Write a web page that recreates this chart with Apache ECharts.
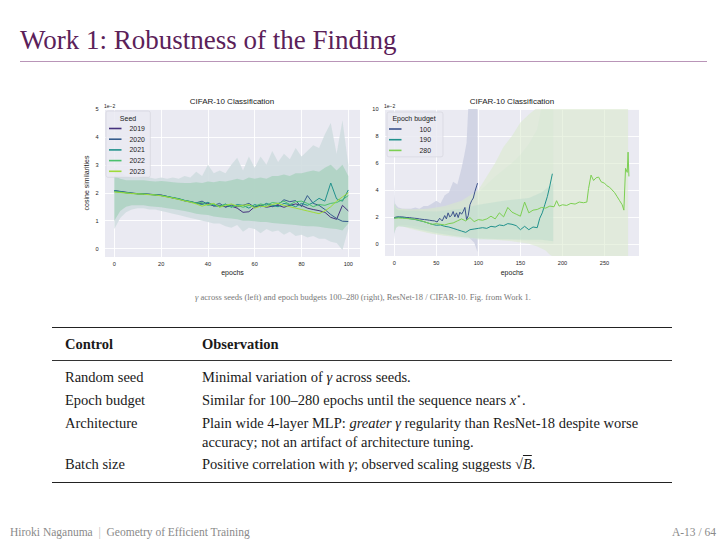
<!DOCTYPE html>
<html>
<head>
<meta charset="utf-8">
<script src="https://cdn.jsdelivr.net/npm/echarts@6.0.0/dist/echarts.min.js"></script>
<style>
  html, body { margin: 0; padding: 0; background: #fff; }
  #page { position: relative; width: 726px; height: 544px; overflow: hidden; }
  #chartDiv { position: absolute; left: 0; top: 0; width: 726px; height: 544px; }
  .t { position: absolute; white-space: nowrap; font-family: 'Liberation Serif', 'DejaVu Serif', serif; }
  .rule { position: absolute; }
  .row { font-size: 14.5px; line-height: 14.5px; color: #1a1a1a; }
  .m { font-style: italic; }
</style>
</head>
<body>
<div id="page">
  <div id="chartDiv"></div>

  <div class="t" style="left:20px; top:27px; font-size:27px; line-height:27px; color:#5b2159;">Work 1: Robustness of the Finding</div>
  <div class="rule" style="left:20px; top:60.5px; width:687px; height:1.2px; background:#b995b8;"></div>

  <div class="t" style="left:0; top:292.5px; width:726px; text-align:center; font-size:8.5px; line-height:8.5px; color:#777;"><span class="m">γ</span> across seeds (left) and epoch budgets 100–280 (right), ResNet-18 / CIFAR-10. Fig. from Work 1.</div>

  <div class="rule" style="left:52px; top:326.5px; width:620px; height:1.4px; background:#222;"></div>
  <div class="t row" style="left:65px; top:337px; font-weight:bold;">Control</div>
  <div class="t row" style="left:202px; top:337px; font-weight:bold;">Observation</div>
  <div class="rule" style="left:52px; top:359.5px; width:620px; height:0.8px; background:#333;"></div>

  <div class="t row" style="left:65px; top:370px;">Random seed</div>
  <div class="t row" style="left:202px; top:370px;">Minimal variation of <span class="m">γ</span> across seeds.</div>
  <div class="t row" style="left:65px; top:392.5px;">Epoch budget</div>
  <div class="t row" style="left:202px; top:392.5px;">Similar for 100–280 epochs until the sequence nears <span class="m">x</span><sup style="font-size:9px; line-height:0;">⋆</sup>.</div>
  <div class="t row" style="left:65px; top:415.5px;">Architecture</div>
  <div class="t row" style="left:202px; top:415.5px;">Plain wide 4-layer MLP: <span class="m">greater</span> <span class="m">γ</span> regularity than ResNet-18 despite worse</div>
  <div class="t row" style="left:202px; top:434.5px;">accuracy; not an artifact of architecture tuning.</div>
  <div class="t row" style="left:65px; top:457px;">Batch size</div>
  <div class="t row" style="left:202px; top:457px;">Positive correlation with <span class="m">γ</span>; observed scaling suggests √<span class="m" style="text-decoration:overline;">B</span>.</div>
  <div class="rule" style="left:52px; top:482px; width:620px; height:1.4px; background:#222;"></div>

  <div class="t" style="left:10px; top:526.5px; font-size:11.5px; line-height:11.5px; color:#8a8a8a;">Hiroki Naganuma &nbsp;<span style="color:#bbb;">|</span>&nbsp; Geometry of Efficient Training</div>
  <div class="t" style="right:10px; top:526.5px; font-size:11.5px; line-height:11.5px; color:#8a8a8a;">A-13 / 64</div>
</div>

<script>
// ---- left panel: seeds ----
const seedNames = ['2019', '2020', '2021', '2022', '2023'];
const seedColors = ['#46327e', '#365c8d', '#21918c', '#4ac16d', '#9fda3a'];

const leftEpochs = [0, 2.5, 5, 7.5, 10, 12.5, 15, 17.5, 20, 22.5, 25, 27.5, 30, 32.5, 35, 37.5, 40, 42.5, 45, 47.5,
    50, 52.5, 55, 57.5, 60, 62.5, 65, 67.5, 70, 72.5, 75, 77.5, 80, 82.5, 85, 87.5, 90, 92.5, 95, 97.5, 100];

const seed2019 = [2.08, 2.05, 2.02, 1.99, 1.97, 1.96, 1.95, 1.93, 1.92, 1.87, 1.82, 1.78, 1.72, 1.68, 1.64, 1.60, 1.63, 1.52, 1.55, 1.50,
    1.52, 1.45, 1.30, 1.32, 1.50, 1.55, 1.48, 1.52, 1.55, 1.48, 1.55, 1.60, 1.55, 1.45, 1.40, 1.36, 1.30, 1.12, 1.05, 1.55, 1.35];
const seed2020 = [2.06, 2.03, 2.00, 1.98, 1.96, 1.95, 1.94, 1.92, 1.90, 1.86, 1.81, 1.77, 1.71, 1.67, 1.64, 1.70, 1.58, 1.55, 1.62, 1.48,
    1.56, 1.50, 1.55, 1.62, 1.48, 1.55, 1.60, 1.50, 1.58, 1.75, 1.68, 1.72, 1.50, 1.90, 1.62, 1.55, 1.40, 1.22, 1.08, 0.98, 0.97];
const seed2021 = [2.08, 2.04, 2.01, 1.98, 1.97, 1.96, 1.94, 1.93, 1.91, 1.87, 1.83, 1.79, 1.73, 1.69, 1.62, 1.58, 1.66, 1.55, 1.50, 1.60,
    1.48, 1.58, 1.55, 1.45, 1.58, 1.50, 1.62, 1.55, 1.50, 1.62, 1.58, 1.50, 1.62, 1.55, 1.65, 1.80, 1.70, 2.35, 1.78, 1.70, 2.10];
const seed2022 = [2.04, 2.02, 2.00, 1.98, 1.96, 1.95, 1.94, 1.92, 1.90, 1.86, 1.82, 1.78, 1.72, 1.68, 1.63, 1.65, 1.55, 1.60, 1.52, 1.58,
    1.50, 1.55, 1.48, 1.55, 1.52, 1.60, 1.55, 1.65, 1.62, 1.70, 1.58, 1.68, 1.70, 1.62, 1.50, 1.58, 1.55, 1.62, 1.65, 1.75, 1.90];
const seed2023 = [2.03, 2.01, 1.99, 1.97, 1.96, 1.95, 1.93, 1.92, 1.89, 1.85, 1.81, 1.76, 1.71, 1.66, 1.60, 1.52, 1.58, 1.62, 1.48, 1.55,
    1.60, 1.52, 1.55, 1.58, 1.45, 1.52, 1.50, 1.58, 1.62, 1.55, 1.50, 1.45, 1.40, 1.35, 1.30, 1.25, 1.35, 1.50, 1.70, 1.85, 2.00];

// spread of the per-step traces (outer envelope and dense core)
const leftOuterHi = [2.9, 2.75, 2.6, 2.55, 2.55, 2.6, 2.55, 2.5, 2.55, 2.5, 2.55, 2.5, 2.6, 2.55, 2.75, 2.6, 3.0, 2.7, 2.8, 2.7,
    3.0, 3.25, 2.8, 3.3, 2.9, 3.3, 3.0, 3.5, 3.1, 3.4, 3.2, 3.6, 3.3, 3.5, 3.7, 3.6, 4.1, 4.5, 3.4, 4.6, 3.0];
const leftOuterLo = [0.7, 1.1, 1.3, 1.4, 1.45, 1.45, 1.4, 1.4, 1.35, 1.3, 1.25, 1.2, 1.15, 1.1, 1.05, 1.0, 0.95, 0.9, 0.9, 0.8,
    0.75, 0.85, 0.6, 0.75, 0.7, 0.55, 0.7, 0.6, 0.65, 0.5, 0.6, 0.45, 0.5, 0.4, 0.45, 0.35, 0.35, 0.25, 0.2, -0.05, 0.7];
const leftInnerHi = [2.6, 2.5, 2.45, 2.45, 2.45, 2.45, 2.42, 2.4, 2.42, 2.4, 2.38, 2.36, 2.35, 2.35, 2.38, 2.35, 2.4, 2.38, 2.42, 2.4,
    2.45, 2.5, 2.45, 2.55, 2.5, 2.55, 2.5, 2.6, 2.6, 2.65, 2.6, 2.7, 2.7, 2.75, 2.8, 2.75, 2.9, 3.0, 2.8, 3.0, 2.6];
const leftInnerLo = [1.0, 1.35, 1.5, 1.55, 1.55, 1.55, 1.52, 1.5, 1.48, 1.45, 1.42, 1.38, 1.35, 1.3, 1.25, 1.22, 1.2, 1.15, 1.12, 1.1,
    1.08, 1.05, 1.0, 1.0, 0.98, 0.95, 0.95, 0.92, 0.9, 0.88, 0.86, 0.85, 0.82, 0.8, 0.8, 0.78, 0.75, 0.72, 0.7, 0.65, 0.9];

const leftXTicks = [0, 20, 40, 60, 80, 100];
const leftYTicks = [0, 1, 2, 3, 4, 5];

// ---- right panel: epoch budgets ----
const budgetNames = ['100', '190', '280'];
const budgetColors = ['#3b528b', '#21918c', '#7ccf52'];

const l100Epochs = [0, 3, 6, 9, 12, 15, 18, 21, 24, 27, 30, 33, 36, 39, 42, 45, 48, 51, 54, 57,
    60, 62, 64, 66, 68, 70, 72, 74, 76, 78, 80, 82, 84, 86, 88, 90, 92, 94, 96, 98, 99];
const l100 = [1.95, 2.0, 2.0, 2.0, 1.98, 1.95, 1.95, 1.92, 1.9, 1.88, 1.85, 1.82, 1.8, 1.78, 1.75, 1.72, 1.7, 1.62, 1.9, 1.7,
    2.1, 1.85, 2.3, 2.0, 2.1, 2.4, 2.0, 2.3, 1.95, 2.35, 2.2, 2.4, 2.7, 1.8, 2.1, 2.9, 3.2, 3.4, 3.9, 4.3, 4.5];

const l190Epochs = [0, 5, 10, 15, 20, 25, 30, 35, 40, 45, 50, 55, 60, 65, 70, 75, 80, 85, 90, 95,
    100, 105, 110, 115, 120, 125, 130, 135, 140, 145, 150, 155, 160, 165, 170, 173, 176, 179, 182, 185, 188];
const l190 = [1.9, 1.98, 1.95, 1.9, 1.85, 1.8, 1.72, 1.65, 1.55, 1.45, 1.38, 1.4, 1.3, 1.25, 1.15, 1.05, 0.95, 0.85, 1.05, 1.1,
    1.15, 1.2, 1.15, 1.3, 1.25, 1.4, 1.35, 1.5, 1.45, 1.35, 1.05, 1.3, 1.05, 1.25, 1.2, 1.9, 2.3, 2.9, 3.5, 4.3, 5.2];

const l280Epochs = [0, 5, 10, 15, 20, 25, 30, 35, 40, 45, 50, 55, 60, 65, 70, 75, 80, 85, 90, 95,
    100, 105, 110, 115, 120, 125, 130, 135, 140, 145, 150, 155, 160, 165, 170, 175, 180, 185, 190,
    193, 196, 200, 205, 210, 215, 220, 225, 229, 231, 234, 237, 240, 243, 246, 250, 253, 256, 259, 262,
    265, 268, 271, 273, 275, 277, 278, 279];
const l280 = [1.9, 1.92, 1.9, 1.88, 1.85, 1.82, 1.75, 1.65, 1.55, 1.45, 1.5, 1.45, 1.4, 1.5, 1.55, 1.7, 1.85, 1.7, 1.95, 1.65,
    1.8, 1.75, 1.85, 2.05, 1.85, 2.3, 2.0, 2.7, 2.35, 2.2, 2.05, 3.1, 2.3, 2.5, 2.55, 2.7, 2.65, 2.8, 2.75,
    3.2, 2.8, 2.9, 2.85, 3.0, 2.95, 3.1, 3.05, 3.1, 4.1, 5.1, 4.7, 4.9, 4.95, 4.6, 4.5, 4.3, 4.2, 4.0, 3.8,
    3.5, 3.2, 2.9, 2.5, 5.6, 5.3, 6.8, 5.0];

// spread of the per-step traces for each budget
const b100Epochs = [0, 1, 3, 5, 10, 15, 20, 25, 30, 35, 40, 45, 50, 55, 60, 65, 70, 75, 80, 83, 86, 88, 90, 95, 99];
const b100Hi = [4.4, 3.0, 2.8, 2.7, 2.6, 2.6, 2.6, 2.7, 2.6, 2.8, 2.8, 3.0, 3.2, 3.0, 3.6, 3.8, 4.6, 4.4, 5.6, 6.5, 7.5, 10.1, 10.1, 10.1, 10.1];
const b100Lo = [0.3, 1.0, 1.3, 1.4, 1.4, 1.4, 1.35, 1.3, 1.25, 1.2, 1.15, 1.1, 1.0, 1.0, 0.95, 0.95, 0.9, 0.85, 0.8, 0.7, 0.6, 0.5, 0.4, 0.1, -0.6];

const b190Epochs = [0, 2, 5, 10, 20, 30, 40, 50, 60, 70, 80, 90, 100, 110, 120, 130, 140, 150, 160, 170, 175, 180, 189];
const b190Hi = [3.2, 2.7, 2.6, 2.55, 2.5, 2.5, 2.5, 2.6, 2.7, 2.8, 3.1, 3.4, 3.8, 4.4, 5.0, 5.5, 6.0, 6.6, 7.4, 8.5, 10.1, 10.1, 10.1];
const b190Lo = [0.8, 1.2, 1.3, 1.3, 1.2, 1.0, 0.85, 0.7, 0.6, 0.5, 0.4, 0.35, 0.3, 0.3, 0.3, 0.3, 0.3, 0.25, 0.2, 0.15, 0.1, 0.05, 0.0];

const b280Epochs = [0, 2, 5, 10, 20, 40, 60, 80, 100, 110, 120, 130, 140, 150, 160, 170, 180, 185, 190, 200, 230, 260, 278];
const b280Hi = [3.0, 2.7, 2.6, 2.6, 2.55, 2.6, 2.8, 3.2, 4.0, 5.0, 6.0, 7.2, 8.0, 9.0, 9.6, 10.1, 10.1, 10.1, 10.1, 10.1, 10.1, 10.1, 10.1];
const b280Lo = [0.9, 1.2, 1.3, 1.3, 1.1, 0.8, 0.6, 0.5, 0.4, 0.35, 0.3, 0.25, 0.2, 0.1, 0.0, -0.2, -0.5, -0.8, -1.0, -1.0, -1.0, -1.0, -1.0];

// dense core shared by the budgets
const coreEpochs = [0, 2, 5, 20, 50, 80, 100, 130, 160, 175, 189];
const coreLo = [0.8, 1.2, 1.3, 1.2, 0.8, 0.5, 0.4, 0.35, 0.3, 0.3, 0.2];
const coreHi = [3.0, 2.6, 2.5, 2.45, 2.4, 2.6, 2.9, 3.2, 3.4, 3.8, 4.5];

const rightXTicks = [0, 50, 100, 150, 200, 250];
const rightYTicks = [0, 2, 4, 6, 8, 10];

const SANS = "'Liberation Sans', Arial, sans-serif";

function pairs(xs, ys) {
    return xs.map((x, i) => [x, ys[i]]);
}

// filled band between lo and hi, drawn as one polygon through the axis scales
function band(grid, xs, lo, hi, color, opacity) {
    return {
        type: 'custom', xAxisIndex: grid, yAxisIndex: grid, silent: true, clip: true, z: 1,
        data: xs.map((x, i) => [x, lo[i], hi[i]]),
        encode: { x: 0, y: [1, 2] },
        renderItem: function (params, api) {
            if (params.dataIndex !== 0) return;
            const pts = [];
            for (let i = 0; i < xs.length; i++) pts.push(api.coord([xs[i], hi[i]]));
            for (let i = xs.length - 1; i >= 0; i--) pts.push(api.coord([xs[i], lo[i]]));
            return {
                type: 'polygon',
                shape: { points: pts },
                style: { fill: color, opacity: opacity, stroke: 'none' }
            };
        }
    };
}

function line(name, grid, xs, ys, color) {
    return {
        name: name, type: 'line', xAxisIndex: grid, yAxisIndex: grid,
        data: pairs(xs, ys), symbol: 'none', z: 3,
        itemStyle: { color: color },
        lineStyle: { color: color, width: 1 }
    };
}

function xAxisCfg(grid, min, max, ticks, gap) {
    return {
        type: 'value', gridIndex: grid, min: min, max: max,
        name: 'epochs', nameLocation: 'middle', nameGap: gap,
        nameTextStyle: { fontSize: 7, color: '#222', fontFamily: SANS },
        axisLine: { show: false },
        axisTick: { show: false, customValues: ticks },
        axisLabel: { customValues: ticks, fontSize: 5.6, color: '#262626', margin: 3.5, fontFamily: SANS },
        splitLine: { show: true, lineStyle: { color: '#ffffff', width: 0.9 } }
    };
}

function yAxisCfg(grid, min, max, ticks, name) {
    return {
        type: 'value', gridIndex: grid, min: min, max: max,
        name: name, nameLocation: 'middle', nameGap: 15.5,
        nameTextStyle: { fontSize: 7, color: '#222', fontFamily: SANS },
        axisLine: { show: false },
        axisTick: { show: false, customValues: ticks },
        axisLabel: { customValues: ticks, fontSize: 5.6, color: '#262626', margin: 6.5, fontFamily: SANS },
        splitLine: { show: true, lineStyle: { color: '#ffffff', width: 0.9 } }
    };
}

function legendCfg(names, left, top, padding, textPad) {
    return {
        data: names, orient: 'vertical', left: left, top: top,
        padding: padding, itemGap: 1.7, itemWidth: 12.5, itemHeight: 1.6, icon: 'rect',
        selectedMode: false,
        backgroundColor: 'rgba(234,234,242,0.85)', borderColor: '#d2d2da', borderWidth: 0.6, borderRadius: 2,
        textStyle: { fontSize: 6.9, lineHeight: 9, color: '#222', fontFamily: SANS, padding: [0, 0, 0, textPad] }
    };
}

function label(text, x, y, size, align) {
    return {
        type: 'text', x: x, y: y, z: 20,
        style: { text: text, fontSize: size, fontFamily: SANS, fill: '#222', align: align, verticalAlign: 'middle' }
    };
}

function renderChart() {
    const chartDom = document.getElementById('chartDiv');
    const myChart = echarts.init(chartDom, null, { renderer: 'svg' });

    const series = [
        band(0, leftEpochs, leftOuterLo, leftOuterHi, '#d0dde0', 0.9),
        band(0, leftEpochs, leftInnerLo, leftInnerHi, '#abd2c1', 0.85),
        band(1, b100Epochs, b100Lo, b100Hi, '#cdd0e2', 0.85),
        band(1, b190Epochs, b190Lo, b190Hi, '#cde5da', 0.35),
        band(1, b280Epochs, b280Lo, b280Hi, '#d8eacb', 0.55),
        band(1, coreEpochs, coreLo, coreHi, '#c2decf', 0.6)
    ];

    const seedData = [seed2019, seed2020, seed2021, seed2022, seed2023];
    seedNames.forEach((n, i) => series.push(line(n, 0, leftEpochs, seedData[i], seedColors[i])));

    series.push(line(budgetNames[0], 1, l100Epochs, l100, budgetColors[0]));
    series.push(line(budgetNames[1], 1, l190Epochs, l190, budgetColors[1]));
    series.push(line(budgetNames[2], 1, l280Epochs, l280, budgetColors[2]));

    const option = {
        backgroundColor: 'transparent',
        animation: false,
        textStyle: { fontFamily: SANS },
        grid: [
            { left: 105, top: 109, width: 255, height: 148, show: true, backgroundColor: '#eaeaf2', borderWidth: 0 },
            { left: 385, top: 109, width: 254, height: 147, show: true, backgroundColor: '#eaeaf2', borderWidth: 0 }
        ],
        xAxis: [
            xAxisCfg(0, -4, 105, leftXTicks, 11.5),
            xAxisCfg(1, -11, 291, rightXTicks, 12.5)
        ],
        yAxis: [
            yAxisCfg(0, -0.3, 5, leftYTicks, 'cosine similarities'),
            yAxisCfg(1, -0.9, 10, rightYTicks, '')
        ],
        legend: [
            legendCfg(seedNames, 106, 111, [13, 5.5, 1.5, 3], 3),
            legendCfg(budgetNames, 387, 112, [12.5, 12, 2, 2], 13)
        ],
        graphic: [
            label('CIFAR-10 Classification', 232, 101, 8, 'center'),
            label('CIFAR-10 Classification', 512, 101, 8, 'center'),
            label('1e\u22122', 104, 105.5, 5, 'left'),
            label('1e\u22122', 384, 105.5, 5, 'left'),
            label('Seed', 128, 118, 7, 'center'),
            label('Epoch budget', 414, 118, 7, 'center')
        ],
        series: series
    };

    myChart.setOption(option);
}

renderChart();
</script>
</body>
</html>
